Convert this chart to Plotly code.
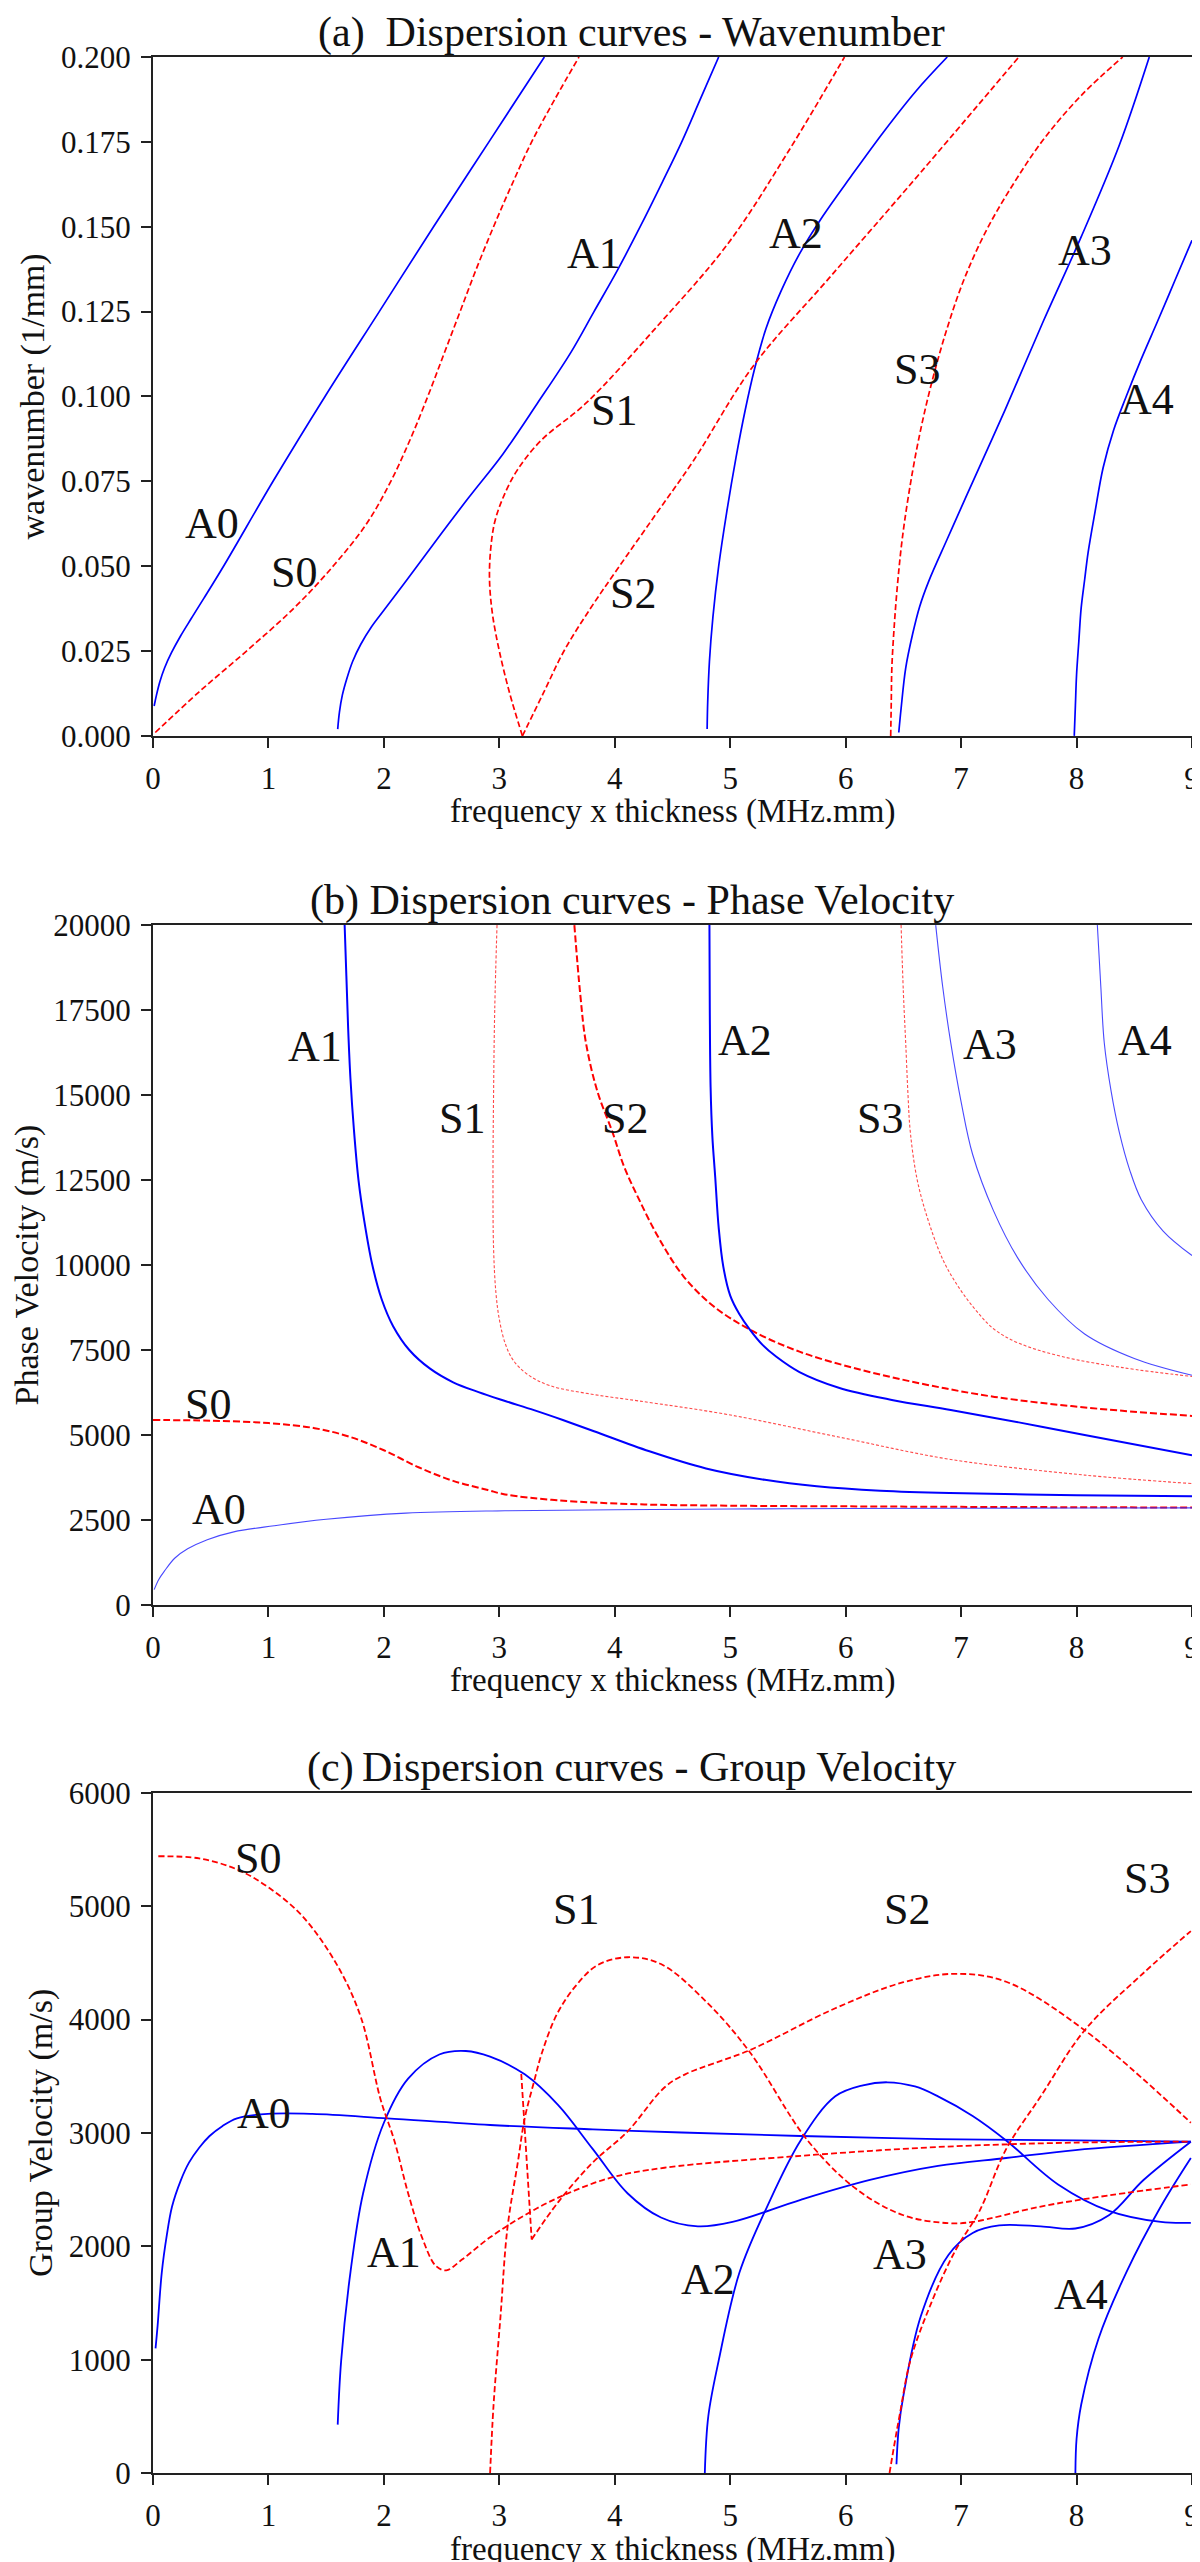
import plotly.graph_objects as go

FONT = "Liberation Serif"
BLUE = "#0000ff"
RED = "#ff0000"
BLUE_THIN = "rgba(40,40,255,0.85)"
RED_THIN = "rgba(255,40,40,0.85)"

XLABEL = "frequency x thickness (MHz.mm)"

# ---- (a) wavenumber (1/mm) vs fd ----
K_A0_FD = [0.01, 0.03, 0.06, 0.10, 0.16, 0.24, 0.33, 0.44, 0.62, 1.04, 1.49, 1.96, 2.43, 2.91, 3.39]
K_A0 = [0.0088, 0.012, 0.016, 0.020, 0.0245, 0.0295, 0.0345, 0.0405, 0.0505, 0.075, 0.100, 0.125, 0.150, 0.175, 0.200]
K_S0_FD = [0.02, 0.40, 0.81, 1.22, 1.56, 1.85, 2.06, 2.23, 2.38, 2.52, 2.66, 2.80, 2.95, 3.11, 3.28, 3.48, 3.69]
K_S0 = [0.001, 0.013, 0.025, 0.0376, 0.050, 0.0625, 0.075, 0.0875, 0.100, 0.1125, 0.125, 0.1375, 0.150, 0.1625, 0.175, 0.1875, 0.200]
K_A1_FD = [1.60, 1.615, 1.64, 1.68, 1.73, 1.80, 1.89, 2.00, 2.20, 2.44, 2.73, 3.03, 3.33, 3.62, 3.82, 4.02, 4.22, 4.41, 4.58, 4.74, 4.90]
K_A1 = [0.002, 0.007, 0.012, 0.017, 0.022, 0.027, 0.032, 0.037, 0.046, 0.057, 0.070, 0.083, 0.098, 0.113, 0.125, 0.137, 0.150, 0.163, 0.175, 0.1875, 0.200]
K_S1_FD = [3.20, 3.09, 3.00, 2.94, 2.915, 2.925, 2.96, 3.03, 3.15, 3.36, 3.75, 4.35, 4.98, 5.50, 5.99]
K_S1 = [0.0, 0.0125, 0.025, 0.036, 0.046, 0.055, 0.063, 0.070, 0.078, 0.087, 0.098, 0.120, 0.145, 0.172, 0.200]
K_S2_FD = [3.20, 3.38, 3.56, 3.79, 4.02, 4.35, 4.68, 5.20, 5.86, 6.65, 7.50]
K_S2 = [0.0, 0.0125, 0.025, 0.0376, 0.049, 0.065, 0.081, 0.109, 0.135, 0.166, 0.200]
K_A2_FD = [4.80, 4.805, 4.82, 4.85, 4.90, 4.97, 5.05, 5.13, 5.21, 5.31, 5.44, 5.60, 5.80, 6.05, 6.33, 6.61, 6.88]
K_A2 = [0.002, 0.010, 0.022, 0.035, 0.050, 0.066, 0.082, 0.096, 0.108, 0.120, 0.131, 0.142, 0.153, 0.165, 0.178, 0.190, 0.200]
K_S3_FD = [6.39, 6.395, 6.40, 6.42, 6.45, 6.49, 6.55, 6.63, 6.73, 6.86, 7.02, 7.22, 7.46, 7.72, 8.05, 8.40]
K_S3 = [0.0, 0.010, 0.020, 0.032, 0.045, 0.058, 0.072, 0.087, 0.102, 0.118, 0.134, 0.149, 0.163, 0.176, 0.189, 0.200]
K_A3_FD = [6.46, 6.48, 6.52, 6.58, 6.64, 6.72, 6.88, 7.05, 7.38, 7.71, 8.04, 8.37, 8.63]
K_A3 = [0.001, 0.008, 0.020, 0.030, 0.038, 0.0456, 0.058, 0.071, 0.096, 0.122, 0.147, 0.174, 0.200]
K_A4_FD = [7.98, 7.99, 8.00, 8.02, 8.04, 8.07, 8.10, 8.16, 8.23, 8.32, 8.43, 8.56, 8.70, 8.85, 9.00]
K_A4 = [0.0, 0.009, 0.018, 0.028, 0.0377, 0.046, 0.054, 0.066, 0.079, 0.090, 0.100, 0.111, 0.122, 0.134, 0.146]

# ---- (b) phase velocity (m/s) vs fd ----
CP_A0_FD = [0.01, 0.05, 0.10, 0.19, 0.30, 0.47, 0.70, 1.05, 1.50, 2.19, 3.05, 4.0, 5.0, 6.0, 7.0, 8.0, 9.0]
CP_A0 = [450, 750, 1000, 1380, 1650, 1920, 2150, 2330, 2520, 2700, 2770, 2800, 2820, 2835, 2845, 2850, 2855]
CP_S0_FD = [0.0, 0.5, 1.0, 1.4, 1.7, 2.0, 2.3, 2.6, 2.9, 3.05, 3.5, 4.21, 5.0, 6.0, 7.0, 8.0, 9.0]
CP_S0 = [5440, 5420, 5350, 5200, 4950, 4550, 4050, 3650, 3380, 3250, 3080, 2960, 2920, 2900, 2885, 2875, 2865]
CP_A1_FD = [1.66, 1.675, 1.69, 1.71, 1.74, 1.78, 1.83, 1.90, 1.98, 2.08, 2.22, 2.40, 2.60, 2.82, 3.05, 3.30, 3.55,
            3.82, 4.30, 4.79, 5.30, 5.75, 6.30, 6.90, 8.0, 9.0]
CP_A1 = [20000, 18500, 17000, 15500, 14000, 12500, 11300, 10000, 9000, 8200, 7500, 6950, 6550, 6260, 6000, 5730, 5440,
         5110, 4520, 4015, 3680, 3490, 3360, 3290, 3230, 3200]
CP_S1_FD = [2.98, 2.96, 2.95, 2.945, 2.95, 2.97, 3.00, 3.05, 3.12, 3.245, 3.44, 3.80, 4.21, 4.98, 5.94, 6.91, 8.07, 9.0]
CP_S1 = [20000, 17500, 15000, 12500, 10500, 9200, 8400, 7700, 7200, 6780, 6450, 6200, 6000, 5600, 4940, 4280, 3820, 3570]
CP_S2_FD = [3.65, 3.70, 3.75, 3.85, 3.98, 4.08, 4.21, 4.38, 4.59, 4.85, 5.17, 5.60, 6.14, 6.70, 7.29, 8.10, 9.0]
CP_S2 = [20000, 18000, 16540, 15100, 13910, 12900, 11930, 10800, 9690, 8800, 8100, 7450, 6910, 6480, 6120, 5800, 5560]
CP_A2_FD = [4.82, 4.823, 4.83, 4.845, 4.87, 4.90, 4.94, 5.00, 5.08, 5.17, 5.28, 5.40, 5.60, 5.94, 6.40, 6.91, 7.50, 8.07, 9.0]
CP_A2 = [20000, 17500, 15230, 13800, 12590, 11100, 9950, 9100, 8550, 8100, 7650, 7300, 6850, 6390, 6030, 5735, 5370, 5000, 4400]
CP_S3_FD = [6.48, 6.50, 6.52, 6.54, 6.56, 6.62, 6.72, 6.85, 6.99, 7.14, 7.29, 7.50, 7.87, 8.40, 9.0]
CP_S3 = [20000, 18000, 16540, 15000, 13910, 12500, 11260, 10100, 9290, 8620, 8100, 7700, 7310, 6980, 6720]
CP_A3_FD = [6.78, 6.84, 6.91, 7.00, 7.10, 7.28, 7.49, 7.75, 8.07, 8.50, 9.0]
CP_A3 = [20000, 18200, 16540, 14800, 13250, 11600, 10210, 9000, 7970, 7250, 6755]
CP_A4_FD = [8.18, 8.21, 8.24, 8.30, 8.37, 8.46, 8.56, 8.75, 9.0]
CP_A4 = [20000, 18200, 16540, 15100, 13910, 12800, 11930, 11000, 10280]

# ---- (c) group velocity (m/s) vs fd ----
CG_A0_FD = [0.022, 0.04, 0.076, 0.12, 0.165, 0.24, 0.313, 0.40, 0.49, 0.60, 0.728, 0.995, 1.38, 2.03, 2.92, 3.81, 4.58, 5.61, 6.80, 7.99, 8.99]
CG_A0 = [1100, 1300, 1768, 2100, 2351, 2580, 2740, 2870, 2973, 3060, 3129, 3168, 3168, 3129, 3070, 3032, 3004, 2973, 2946, 2934, 2923]
CG_S0_FD = [0.046, 0.40, 0.728, 0.995, 1.29, 1.59, 1.80, 1.97, 2.09, 2.21, 2.33, 2.45, 2.54, 2.68, 2.92, 3.22, 3.51, 3.96, 4.43, 5.61, 6.80, 7.99, 8.99]
CG_S0 = [5441, 5422, 5325, 5170, 4917, 4489, 4023, 3300, 2934, 2468, 2079, 1827, 1788, 1885, 2079, 2274, 2429, 2604, 2693, 2798, 2876, 2915, 2923]
CG_A1_FD = [1.60, 1.63, 1.71, 1.82, 2.0, 2.21, 2.48, 2.71, 2.92, 3.22, 3.51, 3.81, 4.11, 4.40, 4.72, 5.02, 5.61, 6.21, 6.80, 7.39, 7.99, 8.99]
CG_A1 = [427, 991, 1768, 2468, 3090, 3479, 3692, 3723, 3673, 3517, 3245, 2857, 2468, 2254, 2176, 2215, 2410, 2585, 2709, 2779, 2849, 2923]
CG_S1_FD = [2.92, 2.95, 3.01, 3.07, 3.16, 3.22, 3.30, 3.37, 3.50, 3.66, 3.85, 4.11, 4.40, 4.80, 5.17, 5.67, 6.09, 6.50, 6.89, 7.10, 7.69, 8.28, 8.99]
CG_S1 = [0, 600, 1380, 2160, 2740, 3130, 3450, 3710, 4050, 4295, 4480, 4550, 4490, 4150, 3712, 2934, 2507, 2274, 2204, 2215, 2351, 2449, 2546]
CG_S2_KINK_FD = [3.19, 3.28]
CG_S2_KINK = [3520, 2060]
CG_S2_FD = [3.28, 3.51, 3.81, 4.11, 4.43, 4.61, 5.17, 5.91, 6.50, 6.95, 7.39, 8.07, 8.99]
CG_S2 = [2060, 2390, 2740, 3012, 3401, 3517, 3731, 4100, 4330, 4404, 4334, 3906, 3090]
CG_A2_FD = [4.78, 4.81, 4.90, 5.08, 5.32, 5.61, 5.91, 6.15, 6.36, 6.60, 6.80, 7.10, 7.39, 7.84, 8.28, 8.73, 8.99]
CG_A2 = [0, 500, 991, 1768, 2351, 2934, 3323, 3420, 3447, 3410, 3323, 3150, 2934, 2546, 2313, 2215, 2207]
CG_S3_FD = [6.38, 6.43, 6.47, 6.56, 6.74, 6.95, 7.16, 7.39, 7.69, 8.07, 8.58, 8.99]
CG_S3 = [0, 300, 524, 991, 1497, 1963, 2313, 2857, 3323, 3906, 4411, 4781]
CG_A3_FD = [6.44, 6.46, 6.50, 6.65, 6.89, 7.10, 7.33, 7.69, 7.99, 8.28, 8.58, 8.99]
CG_A3 = [77, 400, 680, 1380, 1924, 2118, 2184, 2176, 2157, 2274, 2585, 2923]
CG_A4_FD = [7.99, 8.00, 8.04, 8.19, 8.43, 8.73, 8.99]
CG_A4 = [0, 300, 602, 1185, 1768, 2351, 2779]

# mode labels: (text, fd, value)
K_LABELS = [("A0", 0.51, 0.0626), ("S0", 1.22, 0.048), ("A1", 3.82, 0.142),
            ("S1", 3.99, 0.096), ("S2", 4.16, 0.042), ("A2", 5.57, 0.148),
            ("S3", 6.62, 0.108), ("A3", 8.07, 0.143), ("A4", 8.61, 0.099)]
CP_LABELS = [("A1", 1.40, 16440), ("S1", 2.68, 14300), ("S2", 4.09, 14300),
             ("A2", 5.13, 16600), ("S3", 6.30, 14300), ("A3", 7.25, 16480),
             ("A4", 8.59, 16590), ("S0", 0.48, 5900), ("A0", 0.57, 2800)]
CG_LABELS = [("S0", 0.91, 5422), ("S1", 3.66, 4975), ("A0", 0.965, 3168),
             ("A1", 2.09, 1943), ("S2", 6.53, 4975), ("S3", 8.61, 5247),
             ("A2", 4.81, 1710), ("A3", 6.47, 1924), ("A4", 8.04, 1574)]

TITLES = ["(a)\u00a0 Dispersion curves - Wavenumber",
          "(b) Dispersion curves - Phase Velocity",
          "(c)\u2009Dispersion curves - Group Velocity"]
YLABELS = ["wavenumber (1/mm)", "Phase Velocity (m/s)", "Group Velocity (m/s)"]

fig = go.Figure()


def add_curve(fig, row, xs, ys, color, width, dash="solid"):
    sfx = "" if row == 1 else str(row)
    fig.add_trace(go.Scatter(
        x=xs, y=ys, mode="lines",
        line=dict(color=color, width=width, dash=dash, shape="spline", smoothing=1.0),
        xaxis="x" + sfx, yaxis="y" + sfx,
        showlegend=False, hoverinfo="skip",
    ))


DASH = "6px,3px"
FINE = "3px,2px"

# (a)
for xs, ys in [(K_A0_FD, K_A0), (K_A1_FD, K_A1), (K_A2_FD, K_A2), (K_A3_FD, K_A3), (K_A4_FD, K_A4)]:
    add_curve(fig, 1, xs, ys, BLUE, 1.7)
for xs, ys in [(K_S0_FD, K_S0), (K_S1_FD, K_S1), (K_S2_FD, K_S2), (K_S3_FD, K_S3)]:
    add_curve(fig, 1, xs, ys, RED, 1.7, DASH)

# (b)
add_curve(fig, 2, CP_S0_FD, CP_S0, RED, 2.0, "7px,3px")
add_curve(fig, 2, CP_S2_FD, CP_S2, RED, 2.0, "7px,3px")
add_curve(fig, 2, CP_S1_FD, CP_S1, RED_THIN, 1.1, FINE)
add_curve(fig, 2, CP_S3_FD, CP_S3, RED_THIN, 1.1, FINE)
add_curve(fig, 2, CP_A1_FD, CP_A1, BLUE, 2.0)
add_curve(fig, 2, CP_A2_FD, CP_A2, BLUE, 2.0)
for xs, ys in [(CP_A0_FD, CP_A0), (CP_A3_FD, CP_A3), (CP_A4_FD, CP_A4)]:
    add_curve(fig, 2, xs, ys, BLUE_THIN, 1.1)

# (c)
for xs, ys in [(CG_A0_FD, CG_A0), (CG_A1_FD, CG_A1), (CG_A2_FD, CG_A2), (CG_A3_FD, CG_A3), (CG_A4_FD, CG_A4)]:
    add_curve(fig, 3, xs, ys, BLUE, 1.8)
for xs, ys in [(CG_S0_FD, CG_S0), (CG_S1_FD, CG_S1), (CG_S2_KINK_FD, CG_S2_KINK),
               (CG_S2_FD, CG_S2), (CG_S3_FD, CG_S3)]:
    add_curve(fig, 3, xs, ys, RED, 1.8, DASH)

annotations = []
for row, labels in enumerate([K_LABELS, CP_LABELS, CG_LABELS], start=1):
    sfx = "" if row == 1 else str(row)
    for text, x, y in labels:
        annotations.append(dict(
            text=text, x=x, y=y, xref="x" + sfx, yref="y" + sfx,
            showarrow=False, font=dict(family=FONT, size=44, color="#111"),
        ))
    # panel title
    annotations.append(dict(
        text=TITLES[row - 1], x=0.461, xref="paper", xanchor="center",
        y=1, yref="y" + sfx + " domain", yanchor="middle", yshift=25,
        showarrow=False, font=dict(family=FONT, size=42, color="#111"),
    ))
    # x axis label
    annotations.append(dict(
        text=XLABEL, x=0.5, xref="x" + sfx + " domain", xanchor="center",
        y=0, yref="y" + sfx + " domain", yanchor="middle", yshift=-76,
        showarrow=False, font=dict(family=FONT, size=33, color="#111"),
    ))

axis_common = dict(
    showline=True, linecolor="#222", linewidth=2, mirror=True,
    ticks="outside", ticklen=10, tickwidth=1.6, tickcolor="#222",
    showgrid=False, zeroline=False,
    tickfont=dict(family=FONT, size=31, color="#111"),
)

domains = [[0.719, 1.0], [0.3593, 0.6407], [0.0, 0.2815]]
y_ranges = [[0, 0.2], [0, 20000], [0, 6000]]
y_dticks = [0.025, 2500, 1000]
y_formats = [".3f", "d", "d"]

layout = dict(
    width=1200, height=2562,
    margin=dict(l=145, r=8, t=49, b=97),
    paper_bgcolor="white", plot_bgcolor="white",
    font=dict(family=FONT, color="#111"),
    annotations=annotations,
)
for i in range(3):
    sfx = "" if i == 0 else str(i + 1)
    layout["xaxis" + sfx] = dict(
        axis_common, range=[0, 9], dtick=1, tick0=0,
        anchor="y" + sfx, ticklabelstandoff=4,
    )
    layout["yaxis" + sfx] = dict(
        axis_common, range=y_ranges[i], dtick=y_dticks[i], tick0=0,
        tickformat=y_formats[i], domain=domains[i], anchor="x" + sfx,
        ticklabelstandoff=4,
        title=dict(text=YLABELS[i], font=dict(family=FONT, size=34, color="#111"), standoff=6),
    )

fig.update_layout(**layout)
fig.write_html("out.html")
